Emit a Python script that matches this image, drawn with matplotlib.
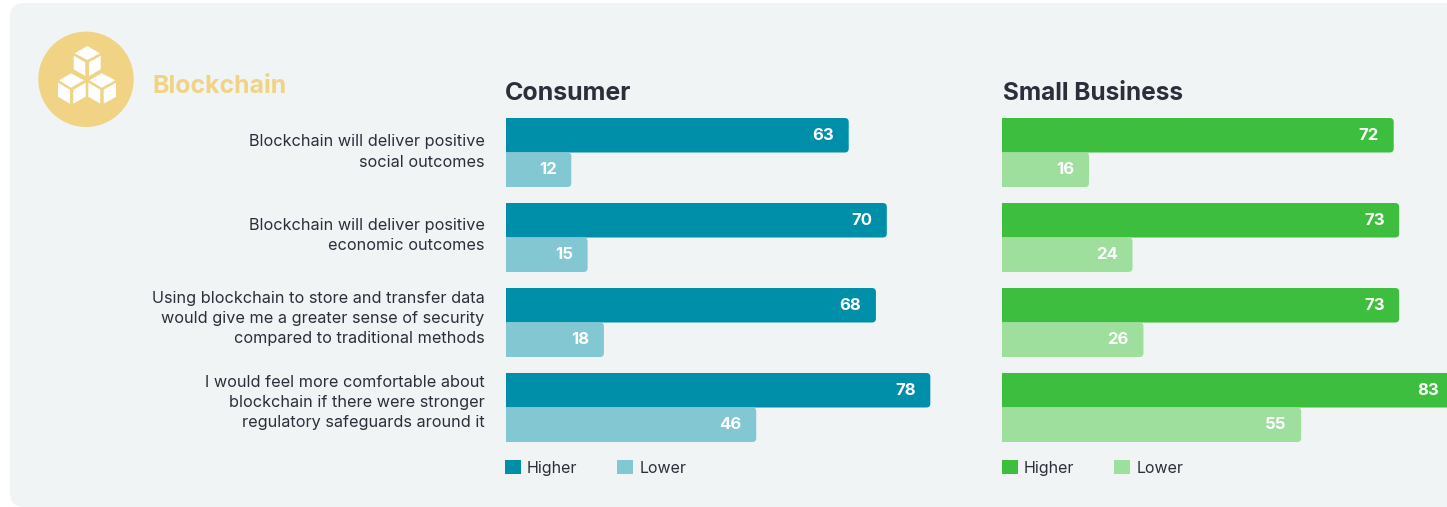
import matplotlib
matplotlib.use("Agg")
import matplotlib.pyplot as plt
from matplotlib.patches import Circle, FancyBboxPatch, PathPatch, Patch, Polygon
from matplotlib.path import Path

# Survey statements and the share of respondents per group
statements = [
    "Blockchain will deliver positive\nsocial outcomes",
    "Blockchain will deliver positive\neconomic outcomes",
    "Using blockchain to store and transfer data\nwould give me a greater sense of security\ncompared to traditional methods",
    "I would feel more comfortable about\nblockchain if there were stronger\nregulatory safeguards around it",
]
consumer_higher = [63, 70, 68, 78]
consumer_lower = [12, 15, 18, 46]
business_higher = [72, 73, 73, 83]
business_lower = [16, 24, 26, 55]

W, H = 1447, 507
FONT = "Inter"
INK = "#2E2D3B"
PANEL = "#F0F4F5"
GOLD = "#F0D384"
TEAL, TEAL_LIGHT = "#008FA9", "#82C7D2"
GREEN, GREEN_LIGHT = "#3DBE3E", "#9EDF9E"

plt.rcParams["font.family"] = FONT
fig = plt.figure(figsize=(W / 100, H / 100), dpi=100, facecolor="white")


def px_axes(left, top, right, bottom, **kw):
    return fig.add_axes([left / W, 1 - bottom / H, (right - left) / W, (bottom - top) / H], **kw)


# Full-figure layer addressed in pixels: panel, badge and text
bg = px_axes(0, 0, W, H, zorder=0)
bg.set_xlim(0, W)
bg.set_ylim(H, 0)
bg.axis("off")
bg.add_patch(FancyBboxPatch((10, 3), W + 40, H - 3, boxstyle="round,pad=0,rounding_size=14",
                            fc=PANEL, ec="none"))
bg.add_patch(Circle((86, 79.3), 47.7, fc=GOLD, ec="none"))

# Three stacked cubes on the badge
cube_faces = [
    [(87.3, 46), (100, 53.3), (87.3, 60), (74.7, 53.3)],
    [(73.7, 55.7), (85.3, 62.3), (85.3, 76), (73.7, 69.3)],
    [(89, 62.3), (100.7, 55.7), (100.7, 69.3), (89, 76)],
    [(71, 73.3), (84, 80.3), (71, 87.7), (59, 80.3)],
    [(58, 82.7), (70, 89.7), (70, 103.7), (58, 96.7)],
    [(73.3, 89.7), (85.7, 82.7), (85.7, 96.7), (73.3, 103.7)],
    [(101.7, 73.3), (115.3, 80.3), (101.7, 87.7), (89.3, 80.3)],
    [(88.3, 82.7), (100.3, 89.7), (100.3, 103.7), (88.3, 96.7)],
    [(103.7, 89.7), (116, 82.7), (116, 96.7), (103.7, 103.7)],
]
for face in cube_faces:
    bg.add_patch(Polygon(face, closed=True, fc="white", ec="none"))

bg.text(152.5, 86.5, "Blockchain", color=GOLD, fontsize=17.9, fontweight="bold", va="center", ha="left")

# Statement labels sit slightly tighter than the bar groups
label_centers = [152, 235.5, 318.5, 402.5]
for text, yc in zip(statements, label_centers):
    bg.text(484.5, yc, text, ha="right", va="center", ma="right", fontsize=11.7,
            color=INK, linespacing=1.45)


def rounded_bar(ax, value, center, height, color, radius_px=4.0):
    """Horizontal bar with only its right-hand corners rounded."""
    rx = radius_px / PX_PER_UNIT
    ry = radius_px / PX_PER_ROW
    top, bottom = center - height / 2, center + height / 2
    verts = [(0, top), (value - rx, top), (value, top), (value, top + ry),
             (value, bottom - ry), (value, bottom), (value - rx, bottom),
             (0, bottom), (0, top)]
    codes = [Path.MOVETO, Path.LINETO, Path.CURVE3, Path.CURVE3,
             Path.LINETO, Path.CURVE3, Path.CURVE3, Path.LINETO, Path.CLOSEPOLY]
    ax.add_patch(PathPatch(Path(verts, codes), fc=color, ec="none"))


PX_PER_UNIT = 5.44
PX_PER_ROW = 85.0
BAR_H = 34.5 / PX_PER_ROW
TOP, BOTTOM = 110, 450


def panel(left, title, title_size, title_dx, legend_dx, higher, lower, c_high, c_low):
    span = 90
    ax = px_axes(left, TOP, left + span * PX_PER_UNIT, BOTTOM, zorder=2)
    ax.patch.set_alpha(0)
    ax.set_xlim(0, span)
    ax.set_ylim(3.5, -0.5)
    ax.axis("off")
    for i, (hi, lo) in enumerate(zip(higher, lower)):
        rounded_bar(ax, hi, i - BAR_H / 2, BAR_H, c_high)
        rounded_bar(ax, lo, i + BAR_H / 2, BAR_H, c_low)
        for v, y in ((hi, i - BAR_H / 2), (lo, i + BAR_H / 2)):
            ax.annotate(str(v), (v, y), xytext=(-10.5, 0), textcoords="offset points",
                        ha="right", va="center", color="white", fontsize=12, fontweight="bold")
    ax.text(title_dx / PX_PER_UNIT, -0.73 + 3 / PX_PER_ROW, title, fontsize=title_size,
            fontweight="bold", color=INK, ha="left", va="center", clip_on=False)
    ax.legend(handles=[Patch(fc=c_high, ec="none", label="Higher"),
                       Patch(fc=c_low, ec="none", label="Lower")],
              loc="upper left", bbox_to_anchor=(legend_dx / (span * PX_PER_UNIT), -10 / (BOTTOM - TOP)),
              ncol=2, frameon=False, fontsize=11.5, handlelength=1, handleheight=1,
              handletextpad=0.38, columnspacing=2.5, borderpad=0, borderaxespad=0,
              labelcolor=INK)


panel(506, "Consumer", 18.0, -1, -1, consumer_higher, consumer_lower, TEAL, TEAL_LIGHT)
panel(1002, "Small Business", 17.6, 1, 0, business_higher, business_lower, GREEN, GREEN_LIGHT)

fig.savefig("out.png", dpi=100)
